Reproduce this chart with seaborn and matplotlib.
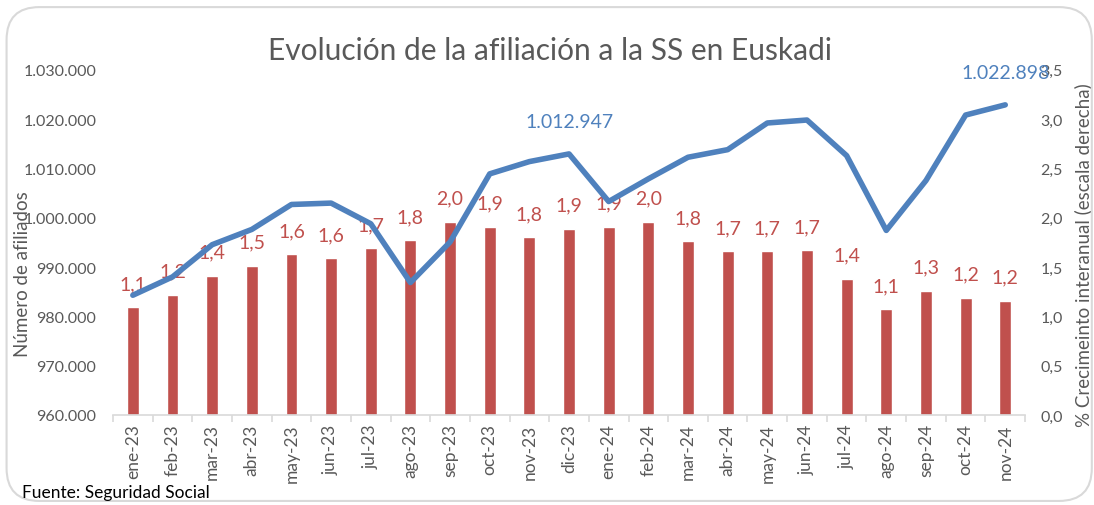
import matplotlib
matplotlib.use("Agg")
import matplotlib.pyplot as plt
import matplotlib.ticker as mticker
from matplotlib.patches import FancyBboxPatch
import seaborn as sns
import pandas as pd
import numpy as np

meses = ["ene-23", "feb-23", "mar-23", "abr-23", "may-23", "jun-23", "jul-23",
         "ago-23", "sep-23", "oct-23", "nov-23", "dic-23", "ene-24", "feb-24",
         "mar-24", "abr-24", "may-24", "jun-24", "jul-24", "ago-24", "sep-24",
         "oct-24", "nov-24"]
afiliados = [984280, 988000, 994530, 997630, 1002690, 1002970, 998780,
             986850, 995080, 1008900, 1011390, 1012947, 1003290, 1007890,
             1012270, 1013810, 1019220, 1019820, 1012600, 997430, 1007540,
             1020830, 1022898]
crecimiento = [1.09, 1.22, 1.41, 1.51, 1.63, 1.59, 1.69, 1.77, 1.96, 1.91,
               1.80, 1.89, 1.91, 1.96, 1.76, 1.66, 1.66, 1.67, 1.38, 1.07,
               1.26, 1.19, 1.16]
destacados = ["dic-23", "nov-24"]

df = pd.DataFrame({"mes": meses, "afiliados": afiliados, "crec": crecimiento})
df["pos"] = np.arange(len(df))

ROJO = "#C0504D"
AZUL = "#4F81BD"
GRIS = "#595959"

sns.set_style("white")
plt.rcParams["font.family"] = ["Lato", "DejaVu Sans"]

fig = plt.figure(figsize=(10.94, 5.06), dpi=100)
fig.patches.append(FancyBboxPatch((0.006, 0.008), 0.992, 0.976,
                                  boxstyle="round,pad=0,rounding_size=0.03",
                                  transform=fig.transFigure, fill=False,
                                  edgecolor="#D9D9D9", linewidth=1.5,
                                  mutation_aspect=2.16))

ax = fig.add_axes([0.1033, 0.178, 0.8337, 0.682])
# barras: crecimiento interanual (eje derecho)
sns.barplot(data=df, x="mes", y="crec", color=ROJO, width=0.3,
            saturation=1, ax=ax)
ax.set_ylim(0, 3.5)
ax.set_xlim(-0.5, len(meses) - 0.5)

for i, v in enumerate(df["crec"]):
    ax.annotate(f"{v:.1f}".replace(".", ","), (i, v), xytext=(0, 11),
                textcoords="offset points", ha="center", va="bottom",
                fontsize=14, color=ROJO)

# línea: número de afiliados (eje izquierdo)
ax2 = ax.twinx()
sns.lineplot(x=df["pos"], y=df["afiliados"], color=AZUL, linewidth=4,
             sort=False, ax=ax2)
ax2.set_ylim(960000, 1030000)

# twinx mueve los ejes: se colocan después
ax.yaxis.tick_right()
ax.yaxis.set_label_position("right")
ax.yaxis.set_major_locator(mticker.MultipleLocator(0.5))
ax.yaxis.set_major_formatter(mticker.FuncFormatter(
    lambda v, p: f"{v:.1f}".replace(".", ",")))
ax.set_ylabel("% Crecimeinto interanual (escala derecha)", fontsize=13.5,
              color=GRIS, rotation=90)
ax.yaxis.set_label_coords(1.054, 0.467)
ax.set_xlabel("")

ax2.yaxis.tick_left()
ax2.yaxis.set_label_position("left")
ax2.yaxis.set_major_locator(mticker.MultipleLocator(10000))
ax2.yaxis.set_major_formatter(mticker.FuncFormatter(
    lambda v, p: f"{v:,.0f}".replace(",", ".")))
ax2.set_ylabel("Número de afiliados", fontsize=13.5, color=GRIS)
ax2.yaxis.set_label_coords(-0.090, 0.41)
ax2.set_xlabel("")

for m in destacados:
    fila = df[df["mes"] == m].iloc[0]
    ax2.annotate(f"{fila['afiliados']:,.0f}".replace(",", "."),
                 (fila["pos"], fila["afiliados"]), xytext=(0, 17),
                 textcoords="offset points", ha="center", va="bottom",
                 fontsize=14, color=AZUL)

for a in (ax, ax2):
    for s in ["top", "left", "right", "bottom"]:
        a.spines[s].set_visible(False)
    a.tick_params(axis="y", length=0, labelsize=11.5, labelcolor=GRIS)
ax.tick_params(axis="y", pad=11)
ax2.tick_params(axis="y", pad=12)

ax.spines["bottom"].set_visible(True)
ax.spines["bottom"].set_color("#D9D9D9")
ax.spines["bottom"].set_linewidth(1.2)
ax.set_xticks(np.arange(len(meses)))
ax.set_xticklabels(meses, rotation=90)
ax.set_xticks(np.arange(len(meses) + 1) - 0.5, minor=True)
ax.tick_params(axis="x", which="major", length=0, pad=6, labelsize=12.5,
               labelcolor=GRIS)
ax.tick_params(axis="x", which="minor", length=5, width=1.2,
               color="#D9D9D9", direction="out", bottom=True)
ax2.tick_params(axis="x", length=0, labelbottom=False)

fig.text(0.503, 0.9, "Evolución de la afiliación a la SS en Euskadi",
         ha="center", va="center", fontsize=21.5, color=GRIS)
fig.text(0.02, 0.026, "Fuente: Seguridad Social", ha="left", va="center",
         fontsize=12.5, color="black")

fig.savefig("out.png", dpi=100)
